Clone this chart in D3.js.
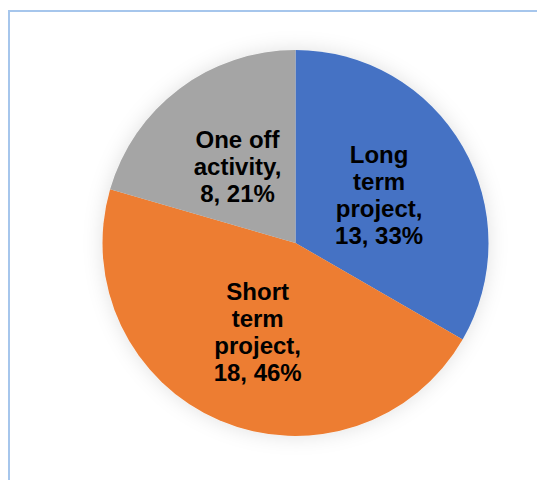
<!DOCTYPE html>
<html>
<head>
<meta charset="utf-8">
<script src="https://cdn.jsdelivr.net/npm/d3@7"></script>
<style>
  html, body { margin: 0; padding: 0; background: #fff; }
  svg { display: block; }
</style>
</head>
<body>
<div id="chart"></div>
<script>
const categories = ["Long term project", "Short term project", "One off activity"];
const labelLines = [
  ["Long", "term", "project,"],
  ["Short", "term", "project,"],
  ["One off", "activity,"]
];
const values = [13, 18, 8];
const colors = ["#4472C4", "#ED7D31", "#A5A5A5"];

const width = 537, height = 480;
const cx = 295.5, cy = 243, radius = 193;

const svg = d3.select("#chart").append("svg")
  .attr("width", width)
  .attr("height", height);

const defs = svg.append("defs");
const shadow = defs.append("filter")
  .attr("id", "pie-shadow")
  .attr("x", "-30%").attr("y", "-30%")
  .attr("width", "160%").attr("height", "160%");
shadow.append("feDropShadow")
  .attr("dx", 0).attr("dy", 0)
  .attr("stdDeviation", 10)
  .attr("flood-color", "#000")
  .attr("flood-opacity", 0.12);

// chart area border (runs off the right and bottom edges)
svg.append("rect")
  .attr("x", 9).attr("y", 11)
  .attr("width", 600).attr("height", 600)
  .attr("fill", "none")
  .attr("stroke", "#a6c6ec")
  .attr("stroke-width", 2);

const total = d3.sum(values);
const pie = d3.pie().sort(null).value(d => d);
const arcs = pie(values);
const arc = d3.arc().innerRadius(0).outerRadius(radius);

const g = svg.append("g").attr("transform", `translate(${cx},${cy})`);

g.append("g").attr("filter", "url(#pie-shadow)")
  .selectAll("path")
  .data(arcs)
  .join("path")
  .attr("d", arc)
  .attr("fill", (d, i) => colors[i]);

const fontSize = 24, lineH = 27;
arcs.forEach((a, i) => {
  const [lx, ly] = arc.centroid(a);
  const pct = Math.round(values[i] / total * 100);
  const lines = labelLines[i].concat([`${values[i]}, ${pct}%`]);
  const text = g.append("text")
    .attr("text-anchor", "middle")
    .attr("font-family", "Liberation Sans, Arial, sans-serif")
    .attr("font-weight", "bold")
    .attr("font-size", fontSize)
    .attr("fill", "#000");
  lines.forEach((line, k) => {
    text.append("tspan")
      .attr("x", lx)
      .attr("y", ly + (k - (lines.length - 1) / 2) * lineH + fontSize * 0.36)
      .text(line);
  });
});
</script>
</body>
</html>
